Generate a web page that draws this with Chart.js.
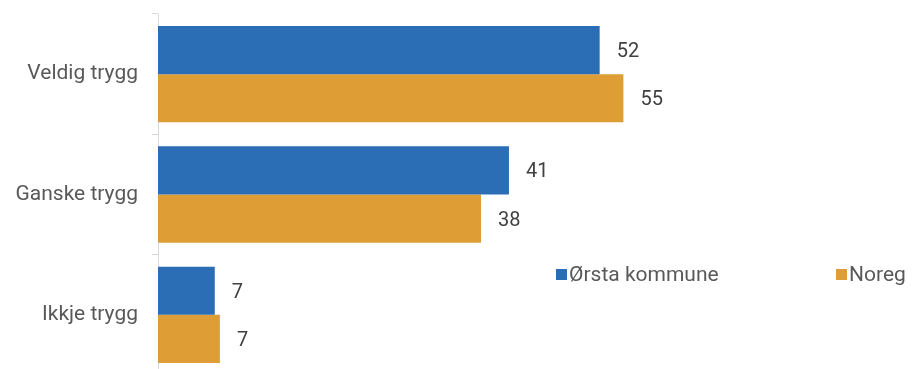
<!DOCTYPE html>
<html>
<head>
<meta charset="utf-8">
<script src="https://cdn.jsdelivr.net/npm/chart.js@4"></script>
<style>
    html, body { margin: 0; padding: 0; background: #fff; overflow: hidden; }
    #wrap { width: 914px; height: 369px; overflow: hidden; }
    canvas { display: block; }
</style>
</head>
<body>
<div id="wrap"><canvas id="tryggChart" width="914" height="376"></canvas></div>
<script>
const categories = ["Veldig trygg", "Ganske trygg", "Ikkje trygg"];
const seriesNames = ["Ørsta kommune", "Noreg"];
const orstaValues = [52.1, 41.4, 6.7];
const noregValues = [54.9, 38.1, 7.3];

const fontFamily = "Roboto, 'Liberation Sans', sans-serif";

// value labels at the end of each bar
const valueLabels = {
    id: "valueLabels",
    afterDatasetsDraw(chart) {
        const ctx = chart.ctx;
        ctx.save();
        ctx.font = "20px " + fontFamily;
        ctx.fillStyle = "#404040";
        ctx.textBaseline = "middle";
        ctx.textAlign = "left";
        chart.data.datasets.forEach((ds, i) => {
            chart.getDatasetMeta(i).data.forEach((bar, j) => {
                ctx.fillText(Math.round(ds.data[j]), bar.x + 17, bar.y + 2);
            });
        });
        ctx.restore();
    }
};

// legend drawn inside the plot, lower right
const insideLegend = {
    id: "insideLegend",
    afterDraw(chart) {
        const ctx = chart.ctx;
        const xs = [556, 836];
        const y = 275;
        ctx.save();
        ctx.font = "21px " + fontFamily;
        ctx.textBaseline = "middle";
        chart.data.datasets.forEach((ds, i) => {
            ctx.fillStyle = ds.backgroundColor;
            ctx.fillRect(xs[i], y - 6, 11, 11);
            ctx.fillStyle = "#595959";
            ctx.fillText(ds.label, xs[i] + 13, y + 1);
        });
        ctx.restore();
    }
};

new Chart(document.getElementById("tryggChart"), {
    type: "bar",
    data: {
        labels: categories,
        datasets: [
            {
                label: seriesNames[0],
                data: orstaValues,
                backgroundColor: "#2c6eb5",
                categoryPercentage: 0.8,
                barPercentage: 1.0
            },
            {
                label: seriesNames[1],
                data: noregValues,
                backgroundColor: "#df9d36",
                categoryPercentage: 0.8,
                barPercentage: 1.0
            }
        ]
    },
    options: {
        indexAxis: "y",
        responsive: false,
        animation: false,
        layout: {
            padding: { top: 14, bottom: 1, right: 10, left: 0 }
        },
        plugins: {
            legend: { display: false },
            tooltip: { enabled: false }
        },
        scales: {
            x: {
                display: false,
                min: 0,
                max: 88
            },
            y: {
                grid: {
                    drawOnChartArea: false,
                    drawTicks: true,
                    tickLength: 6,
                    color: "#d9d9d9"
                },
                border: { display: true, color: "#d9d9d9", width: 1 },
                ticks: {
                    color: "#595959",
                    padding: 14,
                    font: { family: fontFamily, size: 21 }
                },
                afterFit(scale) {
                    scale.width = 158;
                    scale.paddingTop = 0;
                    scale.paddingBottom = 0;
                }
            }
        }
    },
    plugins: [valueLabels, insideLegend]
});
</script>
</body>
</html>
